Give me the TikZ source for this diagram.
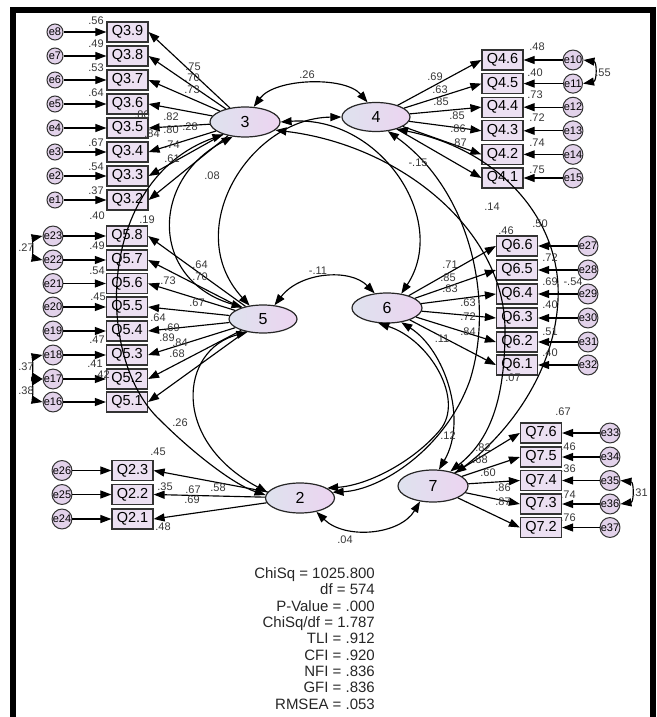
\documentclass[tikz,border=0pt]{standalone}
\usepackage{fontspec}
\setmainfont{Liberation Sans}
\usetikzlibrary{arrows.meta,shapes.geometric}
\definecolor{boxfill}{RGB}{236,224,242}
\definecolor{errfill}{RGB}{226,210,234}
\definecolor{ellL}{RGB}{222,226,238}
\definecolor{ellR}{RGB}{236,212,240}
\definecolor{numcol}{RGB}{55,55,55}
\tikzset{
  >={Triangle[length=11pt,width=8pt]},
  obs/.style={draw=black!80, line width=1.2pt, fill=boxfill, minimum width=41pt, minimum height=20pt, inner sep=0pt, font=\fontsize{14.5}{14.5}\selectfont},
  lat/.style={ellipse, draw=black!85, line width=1.2pt, left color=ellL, right color=ellR, minimum width=70pt, minimum height=30pt, inner sep=0pt, font=\fontsize{16}{16}\selectfont},
  err/.style={circle, draw=black!80, line width=1pt, fill=errfill, minimum size=16pt, inner sep=0pt, font=\fontsize{11}{11}\selectfont},
  num/.style={font=\fontsize{11}{11}\selectfont, text=numcol, inner sep=0pt},
  stat/.style={font=\fontsize{15}{15}\selectfont, text=black!85, inner sep=0pt, anchor=base east},
  lnk/.style={->, line width=1.15pt},
  cov/.style={<->, line width=1.15pt},
}
\begin{document}
\begin{tikzpicture}[x=1pt,y=-1pt]
\useasboundingbox (0,0) rectangle (656,717);
% frame
\draw[line width=6pt, line join=miter] (12.5,717) -- (12.5,10) -- (653,10) -- (653,717);

% latent variables
\node[lat] (l3) at (245,122) {3};
\node[lat, minimum width=68pt, minimum height=29pt] (l4) at (376,117) {4};
\node[lat, minimum width=68pt, minimum height=28pt] (l5) at (263,319) {5};
\node[lat] (l6) at (387,308) {6};
\node[lat, minimum width=69pt] (l2) at (300,498) {2};
\node[lat, minimum height=32pt] (l7) at (433,486) {7};

% Q3 block
\foreach \n/\y/\e in {9/32/8, 8/56/7, 7/80/6, 6/104/5, 5/128/4, 4/152/3, 3/176/2, 2/200/1}{
  \node[obs] (q3\n) at (127.5,\y) {Q3.\n};
  \node[err] (e\e) at (55,\y) {e\e};
  \draw[lnk] (e\e) -- (q3\n);
  \draw[lnk] (l3) -- (q3\n.east);
}
% Q4 block
\foreach \n/\y/\e in {6/60/10, 5/83.6/11, 4/107.2/12, 3/130.8/13, 2/154.4/14, 1/178/15}{
  \node[obs] (q4\n) at (502.5,\y) {Q4.\n};
  \node[err] (e\e) at (573,\y) {e\e};
  \draw[lnk] (e\e) -- (q4\n);
  \draw[lnk] (l4) -- (q4\n.west);
}
% Q5 block
\foreach \n/\y/\e in {8/236/23, 7/260/22, 6/283.5/21, 5/307/20, 4/331/19, 3/355/18, 2/379/17, 1/402/16}{
  \node[obs] (q5\n) at (127,\y) {Q5.\n};
  \node[err] (e\e) at (53,\y) {e\e};
  \draw[lnk] (e\e) -- (q5\n);
  \draw[lnk] (l5) -- (q5\n.east);
}
% Q6 block
\foreach \n/\y/\e in {6/246/27, 5/270/28, 4/294/29, 3/318/30, 2/342/31, 1/365/32}{
  \node[obs] (q6\n) at (517,\y) {Q6.\n};
  \node[err] (e\e) at (588,\y) {e\e};
  \draw[lnk] (e\e) -- (q6\n);
  \draw[lnk] (l6) -- (q6\n.west);
}
% Q2 block
\foreach \n/\y/\e in {3/470.5/26, 2/494.5/25, 1/519/24}{
  \node[obs] (q2\n) at (132.5,\y) {Q2.\n};
  \node[err] (e\e) at (62,\y) {e\e};
  \draw[lnk] (e\e) -- (q2\n);
  \draw[lnk] (l2) -- (q2\n.east);
}
% Q7 block
\foreach \n/\y/\e in {6/433/33, 5/457/34, 4/480.5/35, 3/504/36, 2/527.5/37}{
  \node[obs] (q7\n) at (541,\y) {Q7.\n};
  \node[err] (e\e) at (610,\y) {e\e};
  \draw[lnk] (e\e) -- (q7\n);
  \draw[lnk] (l7) -- (q7\n.west);
}

% error covariances
\draw[cov] (e10.east) .. controls (597,62) and (597,81) .. (e11.east);
\draw[cov] (e35.east) .. controls (634,482) and (634,502) .. (e36.east);
\draw[cov] (e23.west) .. controls (33,238) and (33,258) .. (e22.west);
\draw[cov] (e18.west) .. controls (33,357) and (33,377) .. (e17.west);
\draw[cov] (e17.west) .. controls (33,381) and (33,400) .. (e16.west);

% factor covariances
\draw[cov] (l3.60) .. controls (275,78) and (345,76) .. (l4.120);
\draw[cov] (l5.50) .. controls (300,272) and (350,268) .. (l6.130);
\draw[cov] (l2.-40) .. controls (345,540) and (400,535) .. (l7.-130);
\draw[cov] (l4.west) .. controls (250,118) and (180,230) .. (l5.135);
\draw[cov] (l3.east) .. controls (380,115) and (450,220) .. (l6.45);
\draw[cov] (l3.-15) .. controls (400,145) and (505,230) .. (505,330) .. controls (505,400) and (490,440) .. (l7.40);
\draw[cov] (l4.-30) .. controls (500,150) and (562,220) .. (558,300) .. controls (554,380) and (500,440) .. (l7.30);
\draw[cov] (l4.-50) .. controls (470,190) and (495,300) .. (470,380) .. controls (445,450) and (380,490) .. (l2.10);
\draw[cov] (l6.-120) .. controls (430,340) and (465,400) .. (440,430) .. controls (415,460) and (370,485) .. (l2.20);
\draw[cov] (l6.-45) .. controls (445,350) and (468,420) .. (l7.70);
\draw[cov] (l5.-140) .. controls (180,350) and (170,440) .. (l2.170);
\draw[cov] (l3.-150) .. controls (95,180) and (95,360) .. (160,420) .. controls (195,455) and (235,485) .. (l2.175);
\draw[cov] (l3.-130) .. controls (150,180) and (150,280) .. (l5.150);

% numbers
\foreach \t/\x/\y [count=\i] in {
 .56/96/21, .49/96/44, .53/96/68, .64/96/93, .67/96/143, .54/96/167, .37/96/191,
 .80/142/115, .84/152/134, .75/193/67, .70/192/78, .73/192/90, .82/171/117, .80/171/130, .28/190/127, .74/172/145, .61/172/159,
 .48/537/47, .40/535/73, .73/535/95, .72/537/118, .74/537/143, .75/537/170,
 .69/435/77, .63/440/90, .85/441/102, .85/457/116, .86/458/129, .87/459/143, .55/603/73,
 .40/97/216, .49/97/246, .54/97/271, .45/98/297, .64/158/318, .47/97/340, .41/95/364, .42/102/375,
 .64/200/265, .70/200/277, .73/168/281, .67/197/303, .69/172/328, .89/167/338, .84/180/343, .68/177/354,
 .27/26/248, .37/26/367, .38/26/391, .19/147/220, .26/180/423,
 .46/506/231, .50/540/224, .72/550/258, .69/550/282, -.54/573/282, .40/550/305, .51/550/332, .40/550/353, .07/513/378,
 .71/450/265, .85/448/278, .83/450/289, .63/468/303, .72/468/317, .84/468/332,
 .45/158/452, .35/165/487, .48/163/527, .67/193/490, .58/218/488, .69/192/500,
 .67/563/412, .46/568/447, .36/568/469, .74/568/495, .76/568/518, .31/640/493,
 .82/483/448, .68/480/460, .60/488/473, .86/503/488, .87/503/502,
 .26/307/75, .08/212/176, -.15/418/163, .14/492/207, -.11/318/271, .11/442/339, .12/448/436, .04/345/540}
 { \node[num] (nb\i) at (\x,\y) {\t}; }

% fit statistics
\foreach \t [count=\i] in {ChiSq = 1025.800, df = 574, P-Value = .000, ChiSq/df = 1.787, TLI = .912, CFI = .920, NFI = .836, GFI = .836, RMSEA = .053}
 { \node[stat] (st\i) at (375,{578.6+16.3*(\i-1)}) {\t}; }
\end{tikzpicture}
\end{document}
